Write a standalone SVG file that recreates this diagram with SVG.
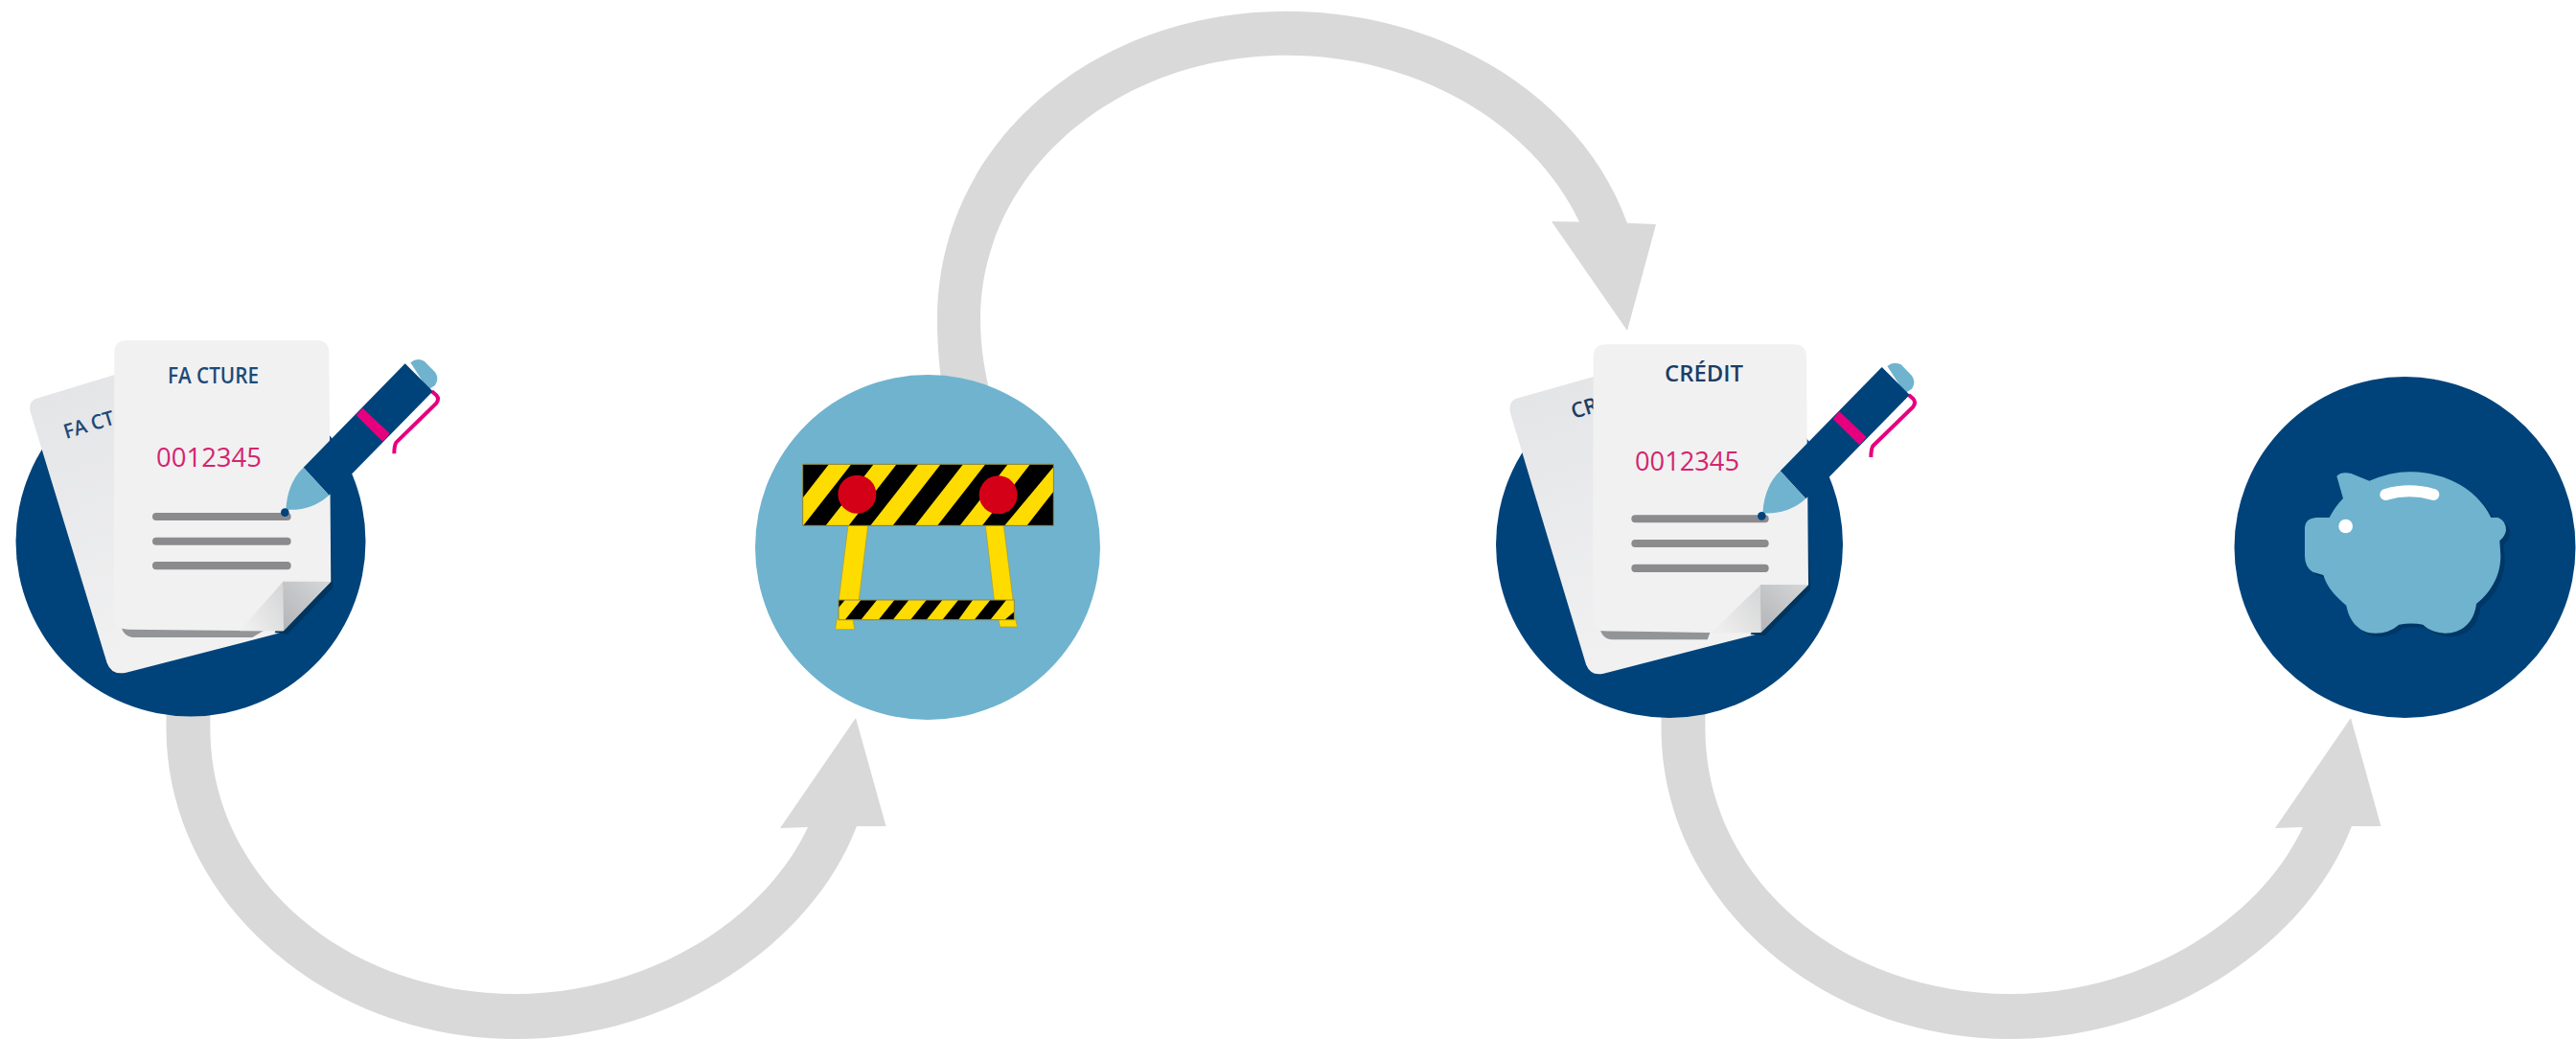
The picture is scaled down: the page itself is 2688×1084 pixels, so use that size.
<svg xmlns="http://www.w3.org/2000/svg" xmlns:xlink="http://www.w3.org/1999/xlink" width="2688" height="1084" viewBox="0 0 2688 1084">
<style>
.arrow{fill:#d9d9d9}
.navy{fill:#00437b}
.sky{fill:#6fb3cf}
.lines{fill:#8b8b8e}
.t{font-family:"Open Sans","Liberation Sans",sans-serif}
.title{fill:#1d4a78;font-weight:600}
.dark{fill:#1d3d63}
.num{fill:#d5246f}
.yel{fill:#ffdc00;stroke:#a89a30;stroke-width:2}
.y{fill:#ffdc00}
.k{fill:#000}
.red{fill:#d40017}
.edge{fill:none;stroke:#8f8a40;stroke-width:3}
</style>
<defs>
<linearGradient id="back" x1="0" y1="0" x2="0.3" y2="1"><stop offset="0" stop-color="#e3e4e6"/><stop offset="1" stop-color="#f1f1f2"/></linearGradient>
<linearGradient id="foldA" x1="1" y1="0" x2="0" y2="0.6"><stop offset="0" stop-color="#d4d5d6"/><stop offset="1" stop-color="#eeeeee"/></linearGradient>
<linearGradient id="foldB" x1="1" y1="0" x2="0" y2="1"><stop offset="0" stop-color="#d6d7d8"/><stop offset="1" stop-color="#b3b4b7"/></linearGradient>
<clipPath id="topPanel"><rect x="203" y="313" width="785" height="192"/></clipPath>
<clipPath id="lowPanel"><rect x="315" y="738" width="550" height="62"/></clipPath>
<g id="pen">
<path d="M1352 235L1366 247Q1376 258 1366 272L1240 395Q1234 405 1234 430" fill="none" stroke="#e6007e" stroke-width="12"/>
<path class="sky" d="M1285 145Q1305 128 1328 140L1362 175Q1376 195 1362 216L1340 230Z"/>
<path class="navy" d="M1268 148L1355 235L1105 490L1030 560L950 473Z"/>
<path fill="#e6007e" d="M1115 310L1135 287L1220 367L1198 392Z"/>
<path class="sky" d="M950 473Q900 520 895 605Q975 610 1030 560Z"/>
<circle class="navy" cx="892" cy="614" r="13"/>
</g>
<path id="lowArrow" d="M173.5 700L173.5 760C173.5 935 335 1084 538 1084C695 1084 845 990 894 862L924.5 862L893 749L814 864L843 863C795 965 670 1037 538 1037C360 1037 219.4 915 219.4 760L219.4 700Z"/>
<path id="pig" d="M385 350Q400 335 430 342L487 365Q560 335 620 337C740 340 830 400 868 480L890 480Q915 490 915 520Q912 540 895 552L898 600C898 670 860 720 822 750C815 810 775 842 725 842Q680 840 655 815Q620 808 580 815Q550 842 505 842C460 842 425 810 415 755C385 730 355 700 343 660L310 650Q285 635 285 600L285 510Q288 482 320 480L362 480Q380 445 405 420Z"/>
</defs>
<rect width="2688" height="1084" fill="#fff"/>
<g id="connectors" class="arrow">
<use xlink:href="#lowArrow" href="#lowArrow"/>
<path d="M987 425C980 390 978 360 978 333C978 150 1140 11.7 1342.6 11.7C1505 11.7 1650 100 1698 232.7L1728 234L1698 345L1619 231L1648 231.5C1600 130 1480 57.7 1342.6 57.7C1165 57.7 1023 180 1023 333C1023 360 1027 390 1037 425Z"/>
<use xlink:href="#lowArrow" href="#lowArrow" transform="translate(1560 0)"/>
</g>
<g id="node-facture">
<circle class="navy" cx="199" cy="565" r="182.5"/>
<g transform="translate(0 330) scale(.33333)">
<path fill="url(#back)" d="M112 258L400 170L900 985L395 1115Q350 1125 335 1085L97 305Q85 270 112 258Z"/>
</g>
<text class="t title" transform="translate(69 458) rotate(-17)" font-size="21" textLength="54" lengthAdjust="spacingAndGlyphs">FA CT</text>
<g transform="translate(0 330) scale(.33333)">
<path fill="#00355f" d="M1030 560L1042 850L900 995L860 990Z"/>
<path fill="#929497" d="M380 975L840 975L790 1005L415 1005Q390 1003 380 975Z"/>
<path fill="#f1f1f2" d="M398 75L990 75Q1030 75 1030 115L1036 830L885 985L400 980Q358 980 356 940L358 115Q358 75 398 75Z"/>
<path fill="url(#foldA)" d="M885 832L750 985L888 985Z"/>
<path fill="url(#foldB)" d="M885 830L1036 830L888 985Z"/>
<rect class="lines" x="477" y="615" width="434" height="24" rx="12"/>
<rect class="lines" x="477" y="692" width="434" height="24" rx="12"/>
<rect class="lines" x="477" y="768" width="434" height="25" rx="12"/>
<use xlink:href="#pen" href="#pen"/>
</g>
<text class="t title" x="175" y="400" font-size="23" textLength="95" lengthAdjust="spacingAndGlyphs">FA CTURE</text>
<text class="t num" x="163" y="487" font-size="27.5" textLength="110" lengthAdjust="spacingAndGlyphs">0012345</text>
</g>
<g id="node-barrier">
<circle class="sky" cx="968" cy="571" r="180"/>
<g transform="translate(770 380) scale(.33333)">
<path class="yel" d="M345 505L407 505L378 745L315 745Z"/>
<path class="yel" d="M775 505L832 505L862 745L803 745Z"/>
<path class="yel" d="M310 795L360 795L365 830L305 830Z"/>
<path class="yel" d="M815 795L868 795L875 822L820 822Z"/>
<rect class="k" x="203" y="313" width="785" height="192"/>
<g clip-path="url(#topPanel)" class="y">
<path d="M285 313L355 313L205 505L135 505Z"/>
<path d="M425 313L497 313L347 505L275 505Z"/>
<path d="M565 313L635 313L485 505L415 505Z"/>
<path d="M705 313L775 313L625 505L555 505Z"/>
<path d="M845 313L915 313L765 505L695 505Z"/>
<path d="M985 325L1055 313L905 505L835 505Z"/>
</g>
<rect class="edge" x="203" y="313" width="785" height="192"/>
<circle class="red" cx="373" cy="407" r="60"/>
<circle class="red" cx="815" cy="409" r="60"/>
<rect class="y" x="315" y="738" width="550" height="62"/>
<g clip-path="url(#lowPanel)" class="k">
<path d="M315 738L335 738L315 762Z"/>
<path d="M385 738L435 738L385 800L335 800Z"/>
<path d="M490 738L535 738L485 800L440 800Z"/>
<path d="M590 738L640 738L590 800L540 800Z"/>
<path d="M690 738L735 738L690 800L640 800Z"/>
<path d="M790 738L840 738L790 800L740 800Z"/>
<path d="M865 775L865 800L835 800Z"/>
</g>
<rect class="edge" x="315" y="738" width="550" height="62"/>
</g>
</g>
<g id="node-credit">
<circle class="navy" cx="1742" cy="568" r="181"/>
<g transform="translate(1540 330) scale(.33333)">
<path fill="url(#back)" d="M125 258L400 180L900 990L400 1118Q360 1128 345 1090L110 310Q98 270 125 258Z"/>
</g>
<text class="t title dark" transform="translate(1642 437) rotate(-17)" font-size="22" style="fill:#1d3d63">CR</text>
<g transform="translate(1540 330) scale(.33333)">
<path fill="#00355f" d="M1036 570L1048 855L905 1000L860 995Z"/>
<path fill="#929497" d="M390 985L735 985L725 1012L425 1012Q400 1010 390 985Z"/>
<path fill="#f1f1f2" d="M408 88L995 88Q1035 88 1035 128L1041 840L890 990L735 990L410 985Q368 985 366 945L368 128Q368 88 408 88Z"/>
<path fill="url(#foldA)" d="M890 842L735 992L893 990Z"/>
<path fill="url(#foldB)" d="M890 840L1041 840L893 990Z"/>
<rect class="lines" x="487" y="622" width="430" height="24" rx="12"/>
<rect class="lines" x="487" y="699" width="430" height="24" rx="12"/>
<rect class="lines" x="487" y="776" width="430" height="25" rx="12"/>
<use xlink:href="#pen" href="#pen" transform="translate(3 11)"/>
</g>
<text class="t title" x="1737" y="398" font-size="23" textLength="82" lengthAdjust="spacingAndGlyphs" style="fill:#1d3d63">CRÉDIT</text>
<text class="t num" x="1706" y="491" font-size="27.5" textLength="109" lengthAdjust="spacingAndGlyphs">0012345</text>
</g>
<g id="node-savings">
<circle class="navy" cx="2509.5" cy="571" r="178"/>
<g transform="translate(2310 380) scale(.33333)">
<use xlink:href="#pig" href="#pig" fill="#003766" transform="translate(13 11)"/>
<use xlink:href="#pig" href="#pig" fill="#6fb3cf"/>
<circle cx="413" cy="507" r="22" fill="#fff"/>
<path d="M538 408Q612 386 688 408" fill="none" stroke="#fff" stroke-width="36" stroke-linecap="round"/>
</g>
</g>
</svg>
